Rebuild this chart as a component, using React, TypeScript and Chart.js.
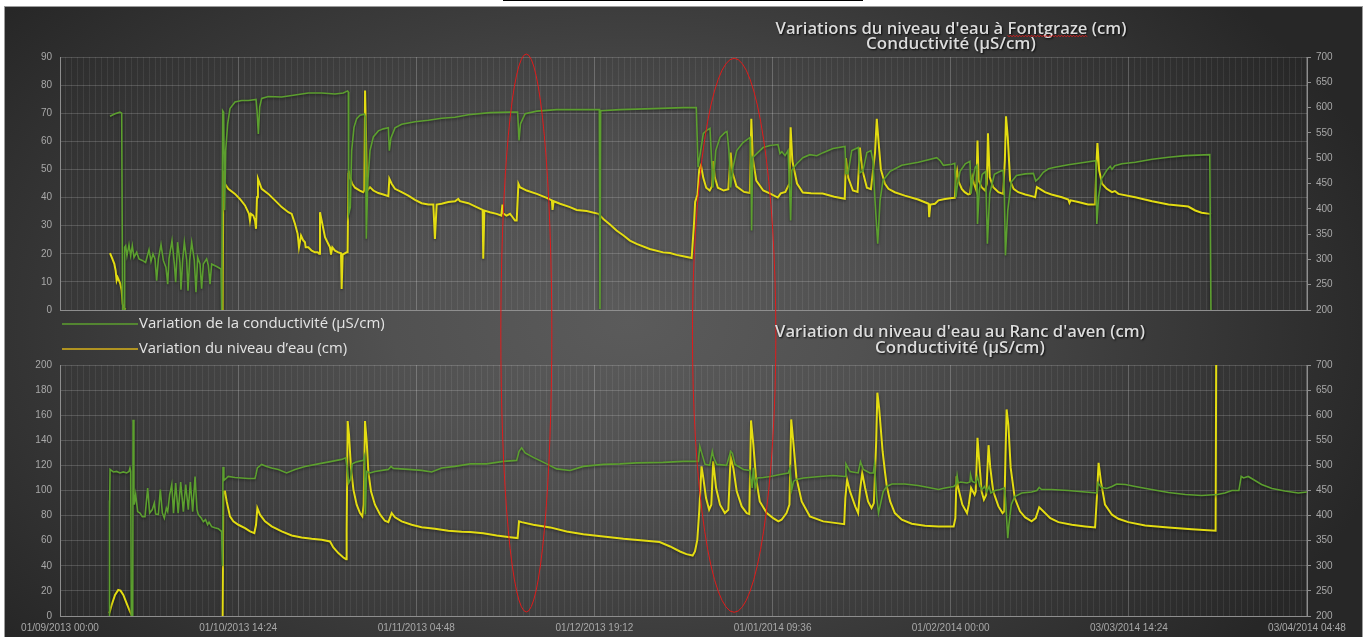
import React, { useEffect, useRef } from 'react';
import { Chart, registerables } from 'chart.js';

Chart.register(...registerables);

// ---- time axis (days since 01/09/2013 00:00) ----
const MAJOR_STEP = 30.6;
const MINOR_PER_MAJOR = 30;
const X_MAX = 7 * MAJOR_STEP;
const DATE_LABELS = [
  '01/09/2013 00:00', '01/10/2013 14:24', '01/11/2013 04:48', '01/12/2013 19:12',
  '01/01/2014 09:36', '01/02/2014 00:00', '03/03/2014 14:24', '03/04/2014 04:48',
];

// ---- Fontgraze: conductivity (µS/cm) ----
const TOP_COND_DAYS = [
  8.59, 9.45, 10.3, 10.6, 10.75, 11.0, 11.1, 11.28, 11.5, 11.85,
  12.14, 12.42, 12.71, 13.17, 13.57, 14.14, 14.7, 15.29, 15.63, 15.97,
  16.32, 16.6, 16.9, 17.35, 17.75, 18.2, 18.5, 18.72, 19.24, 19.64,
  19.87, 20.2, 20.6, 20.78, 21.07, 21.36, 21.76, 21.99, 22.27, 22.62,
  23.07, 23.36, 23.65, 24.05, 24.33, 24.62, 25.19, 25.48, 25.77, 26.05,
  26.9, 27.66, 27.77, 27.94, 28.11, 28.28, 28.46, 28.8, 29.2, 30.06,
  31.2, 32.35, 33.67, 33.84, 34.07, 34.3, 34.64, 35.79, 38.08, 40.37,
  42.66, 44.95, 47.24, 48.67, 49.4, 49.53, 49.59, 49.87, 50.1, 50.5,
  50.96, 51.53, 52.27, 52.45, 52.62, 52.85, 53.25, 53.82, 54.68, 55.54,
  56.4, 56.57, 56.85, 57.54, 58.69, 60.98, 63.27, 65.56, 67.85, 70.14,
  73.86, 77.3, 78.6, 78.85, 79.1, 79.9, 81.9, 85.3, 89.3, 92.64,
  92.75, 92.87, 96.2, 101.9, 107.07, 109.3, 109.6, 110.5, 111.1, 111.65,
  112.17, 112.64, 113.37, 114.23, 114.57, 114.9, 115.2, 115.6, 116.24, 117.32,
  118.52, 118.7, 118.8, 118.96, 119.68, 120.76, 121.96, 123.33, 123.68, 124.0,
  124.54, 125.05, 125.34, 125.5, 125.7, 126.55, 127.6, 128.8, 130.0, 131.07,
  132.78, 134.84, 135.0, 135.36, 136.0, 137.13, 137.4, 137.93, 138.6, 139.3,
  139.65, 140.0, 140.46, 140.86, 141.37, 142.6, 144.58, 147.44, 150.6, 151.2,
  151.74, 153.2, 153.7, 153.9, 154.1, 154.6, 155.5, 156.3, 156.5, 156.7,
  157.2, 157.5, 157.6, 157.9, 158.4, 159.0, 159.3, 159.7, 160.5, 161.5,
  162.0, 162.2, 162.4, 162.8, 163.4, 164.3, 165.8, 167.2, 167.6, 168.1,
  168.9, 169.8, 170.9, 173.2, 176.1, 177.9, 178.1, 178.4, 178.9, 179.8,
  180.4, 180.7, 181.2, 182.4, 184.7, 187.6, 190.4, 193.3, 197.5, 197.7,
];
const TOP_COND_US = [
  583, 588, 591, 589, 200, 200, 324, 327, 307, 329,
  307, 327, 304, 314, 301, 298, 294, 319, 296, 311,
  301, 258, 301, 329, 298, 284, 251, 301, 337, 291,
  255, 334, 294, 240, 298, 334, 298, 238, 298, 334,
  298, 235, 304, 291, 242, 291, 301, 288, 251, 291,
  286, 281, 200, 594, 591, 397, 515, 568, 598, 611,
  614, 614, 616, 594, 548, 601, 618, 622, 621, 625,
  629, 629, 627, 629, 633, 631, 390, 403, 515, 561,
  578, 585, 587, 581, 341, 449, 515, 542, 554, 558,
  560, 515, 540, 560, 567, 572, 575, 579, 581, 586,
  590, 591, 591, 535, 568, 588, 593, 596, 596, 596,
  202, 594, 596, 598, 600, 600, 482, 549, 555, 559,
  442, 515, 541, 551, 553, 515, 442, 482, 515, 531,
  541, 482, 357, 501, 509, 521, 525, 527, 509, 513,
  505, 515, 436, 377, 476, 489, 501, 507, 505, 511,
  519, 523, 470, 470, 515, 521, 471, 475, 511, 515,
  495, 416, 331, 416, 456, 474, 486, 492, 501, 495,
  486, 488, 490, 423, 443, 474, 489, 494, 430, 453,
  482, 486, 370, 436, 468, 474, 331, 430, 468, 474,
  476, 436, 308, 397, 453, 466, 469, 470, 455, 460,
  472, 479, 482, 487, 492, 495, 370, 423, 459, 476,
  484, 478, 485, 489, 492, 498, 502, 505, 507, 200,
];

// ---- Fontgraze: water level (cm) ----
const TOP_LEVEL_DAYS = [
  8.59, 9.0, 9.33, 9.56, 9.73, 9.9, 10.13, 10.36, 10.59, 10.76,
  10.99, 11.28, 11.5, 27.94, 28.06, 28.34, 28.9, 30.06, 30.9, 31.78,
  32.46, 32.63, 32.8, 33.2, 33.5, 33.67, 33.84, 34.0, 34.64, 35.79,
  36.93, 38.08, 39.22, 39.8, 40.37, 40.82, 41.05, 41.4, 41.8, 42.08,
  42.2, 42.66, 43.23, 43.8, 44.26, 44.5, 44.66, 44.95, 45.52, 46.09,
  46.38, 46.55, 46.78, 47.24, 47.81, 48.27, 48.38, 48.55, 49.24, 49.4,
  49.53, 49.6, 49.8, 50.2, 50.67, 51.5, 52.1, 52.27, 52.4, 52.62,
  52.8, 53.25, 53.82, 54.68, 55.54, 56.4, 56.57, 56.97, 57.54, 58.69,
  59.83, 60.98, 62.12, 63.27, 64.13, 64.4, 64.7, 65.56, 66.7, 67.85,
  68.4, 68.7, 70.14, 71.57, 72.6, 72.7, 72.89, 73.86, 75.0, 75.8,
  76.0, 76.1, 76.7, 77.3, 77.75, 78.16, 78.45, 78.74, 79.0, 80.17,
  81.9, 83.6, 84.5, 84.6, 84.8, 85.9, 87.6, 88.75, 90.47, 92.5,
  93.33, 94.47, 95.6, 96.8, 97.9, 99.05, 101.3, 103.6, 104.8, 105.9,
  107.07, 108.5, 108.9, 109.1, 109.5, 109.8, 110.1, 110.5, 111.0, 111.6,
  112.0, 112.2, 112.5, 113.0, 114.0, 114.8, 115.2, 115.5, 116.2, 117.5,
  118.5, 118.75, 119.0, 119.6, 120.8, 122.0, 123.3, 123.8, 124.6, 125.3,
  125.5, 125.8, 126.6, 127.6, 129.0, 131.0, 133.0, 134.8, 135.0, 135.4,
  136.2, 137.0, 137.4, 137.8, 138.6, 139.3, 140.0, 140.3, 140.6, 141.0,
  141.7, 142.3, 143.4, 145.1, 147.4, 149.2, 149.3, 149.5, 150.3, 150.9,
  152.0, 153.2, 153.7, 153.9, 154.1, 154.4, 154.9, 155.4, 156.0, 156.3,
  156.5, 156.7, 157.0, 157.4, 157.6, 157.8, 158.3, 158.9, 159.2, 159.4,
  159.7, 160.3, 161.2, 162.0, 162.3, 162.5, 162.8, 163.2, 163.8, 164.6,
  165.8, 166.9, 167.5, 167.8, 168.3, 169.2, 170.3, 172.1, 173.2, 173.4,
  173.6, 174.9, 176.6, 177.8, 178.0, 178.2, 178.5, 179.0, 179.8, 180.7,
  181.2, 181.8, 184.7, 187.6, 190.4, 193.8, 195.0, 196.1, 197.5, 197.7,
];
const TOP_LEVEL_CM = [
  20.2, 18.2, 16.4, 14.0, 10.5, 11.6, 10.5, 9.3, 6.9, 2.1,
  0.7, 0.2, null, 0, 49.6, 44.9, 43.1, 41.3, 39.5, 37.2,
  34.2, 31.8, 34.2, 33.6, 31.8, 28.9, 40.1, 46.7, 43.1, 41.3,
  39.0, 36.6, 34.8, 34.2, 30.6, 27.1, 22.3, 26.5, 24.7, 24.1,
  22.3, 22.3, 21.1, 20.5, 20.5, 20.0, 34.8, 31.8, 25.9, 23.5,
  22.3, 19.7, 22.3, 21.1, 20.5, 20.2, 7.5, 19.7, 20.5, 20.5,
  48.5, 49.6, 47.3, 44.9, 43.5, 42.5, 41.9, 42.5, 78.1, 56.8,
  42.5, 43.7, 42.5, 41.6, 41.1, 40.5, 46.7, 44.9, 43.1, 41.9,
  40.7, 39.2, 38.0, 37.5, 37.5, 25.3, 37.5, 37.8, 38.4, 38.7,
  39.5, 38.7, 38.0, 36.6, 35.6, 18.2, 35.4, 34.8, 34.2, 33.6,
  37.5, 34.4, 33.6, 34.2, 33.0, 31.8, 31.8, 44.9, 43.7, 42.5,
  41.3, 39.9, 39.0, 35.6, 38.7, 37.8, 36.6, 35.6, 35.2, 34.2,
  32.4, 30.4, 28.3, 26.5, 24.7, 23.5, 21.7, 20.5, 20.3, 19.6,
  19.1, 18.5, 30.6, 38.4, 41.0, 50.0, 51.5, 47.0, 43.5, 42.5,
  44.0, 53.0, 47.0, 43.5, 42.5, 43.0, 56.0, 49.0, 44.0, 42.0,
  41.6, 68.0, 54.0, 46.0, 42.5, 41.4, 40.0, 41.5, 42.0, 45.0,
  65.0, 53.0, 45.0, 41.8, 41.5, 41.4, 40.3, 39.6, 54.0, 47.0,
  42.5, 42.0, 57.8, 50.0, 43.5, 43.0, 56.0, 68.0, 60.0, 50.0,
  44.9, 43.1, 41.9, 40.7, 39.3, 37.8, 33.0, 37.5, 37.8, 39.0,
  39.5, 39.8, 39.9, 47.3, 49.6, 45.5, 43.1, 41.9, 41.1, 41.3,
  44.9, 47.3, 44.9, 42.5, 60.3, 46.1, 43.7, 42.5, 44.9, 62.9,
  47.3, 43.7, 41.9, 41.3, 53.2, 68.9, 61.5, 46.1, 43.1, 41.9,
  41.1, 40.5, 40.1, 43.7, 43.1, 41.9, 41.1, 40.1, 39.3, 38.1,
  39.0, 38.4, 37.5, 37.5, 50.8, 59.4, 49.6, 44.9, 43.1, 41.9,
  42.3, 41.3, 40.1, 38.7, 37.5, 36.8, 35.4, 34.6, 34.2, 34.0,
];

// ---- Ranc d'aven: conductivity (µS/cm) ----
const BOT_COND_DAYS = [
  8.45, 8.48, 8.52, 8.6, 8.76, 9.16, 9.73, 10.3, 10.88, 11.45,
  11.85, 12.02, 12.14, 12.25, 12.5, 12.55, 12.7, 12.77, 13.0, 13.34,
  13.74, 14.14, 14.6, 15.06, 15.4, 15.86, 16.2, 16.43, 16.9, 17.23,
  17.58, 17.92, 18.27, 18.5, 18.84, 19.2, 19.5, 19.87, 20.3, 20.73,
  21.19, 21.59, 22.04, 22.39, 22.79, 23.2, 23.53, 23.76, 24.22, 24.62,
  25.0, 25.36, 25.6, 26.05, 26.6, 27.2, 27.77, 27.9, 28.0, 28.15,
  28.63, 28.9, 30.06, 31.2, 32.35, 33.5, 33.67, 33.9, 34.64, 35.5,
  36.36, 37.5, 38.93, 40.37, 42.08, 44.37, 46.66, 48.38, 49.07, 49.4,
  49.6, 49.9, 50.2, 50.96, 52.1, 52.3, 52.45, 52.67, 53.25, 54.1,
  56.4, 56.86, 57.26, 59.83, 62.12, 63.84, 65.56, 67.85, 70.43, 73.3,
  76.16, 78.45, 78.85, 79.3, 79.9, 81.3, 83.6, 85.3, 87.6, 89.9,
  93.33, 96.2, 99.05, 103.6, 107.07, 109.65, 109.9, 110.3, 110.8, 111.6,
  112.05, 112.3, 112.8, 114.5, 115.2, 115.5, 115.95, 117.4, 118.5, 118.9,
  119.1, 119.4, 119.8, 120.8, 122.0, 123.7, 125.1, 125.4, 125.7, 126.0,
  126.5, 127.7, 130.5, 132.8, 134.85, 135.0, 135.7, 137.1, 137.5, 138.0,
  139.1, 139.7, 139.9, 140.3, 140.6, 141.4, 142.0, 142.9, 145.1, 147.4,
  149.2, 150.9, 152.0, 153.5, 153.9, 154.1, 154.3, 154.7, 155.8, 156.3,
  156.4, 156.7, 157.3, 157.6, 158.0, 158.4, 158.8, 159.2, 159.6, 159.9,
  160.6, 161.5, 162.2, 162.4, 162.8, 163.0, 163.4, 164.0, 165.2, 166.9,
  167.8, 168.2, 168.6, 170.3, 173.2, 176.1, 178.1, 178.3, 178.9, 179.8,
  180.7, 181.5, 183.0, 184.7, 187.5, 190.4, 193.3, 196.1, 198.8, 200.1,
  201.3, 202.5, 202.9, 203.3, 204.1, 204.7, 206.4, 208.2, 210.4, 212.7,
  214.2,
];
const BOT_COND_US = [
  200, 430, 395, 492, 492, 487, 488, 485, 487, 485,
  488, 495, 488, 200, 200, 591, 440, 422, 442, 408,
  405, 398, 398, 455, 405, 412, 425, 403, 402, 452,
  405, 395, 415, 408, 442, 462, 405, 465, 405, 467,
  408, 462, 412, 467, 408, 478, 412, 402, 396, 388,
  392, 382, 387, 378, 376, 374, 368, 300, 497, 470,
  475, 478, 476, 475, 474, 474, 482, 495, 502, 498,
  495, 492, 485, 492, 498, 503, 508, 512, 515, 488,
  465, 472, 503, 507, 510, 518, 402, 488, 485, 488,
  492, 498, 494, 492, 490, 487, 495, 498, 503, 503,
  508, 510, 528, 535, 525, 516, 503, 493, 490, 498,
  502, 503, 505, 506, 508, 508, 538, 522, 502, 500,
  528, 515, 502, 500, 528, 524, 502, 492, 490, 455,
  495, 455, 475, 476, 478, 482, 485, 495, 452, 468,
  472, 475, 478, 480, 478, 503, 488, 485, 507, 492,
  485, 485, 502, 435, 405, 448, 458, 463, 463, 460,
  456, 452, 455, 458, 462, 480, 465, 467, 465, 467,
  482, 468, 465, 478, 458, 452, 458, 448, 458, 445,
  450, 452, 455, 435, 355, 382, 422, 438, 445, 447,
  450, 456, 452, 452, 450, 447, 445, 465, 456, 454,
  458, 463, 462, 458, 452, 446, 442, 440, 442, 445,
  450, 450, 478, 475, 478, 474, 462, 454, 449, 445,
  447,
];

// ---- Ranc d'aven: water level (cm) ----
const BOT_LEVEL_DAYS = [
  8.47, 8.87, 9.45, 10.0, 10.4, 10.88, 11.45, 12.02, 12.4, 12.6,
  27.94, 28.06, 28.34, 28.63, 29.2, 29.77, 30.63, 31.78, 32.64, 33.38,
  33.67, 33.9, 34.35, 35.21, 36.36, 38.08, 39.8, 41.5, 43.23, 44.95,
  46.38, 46.95, 47.81, 48.67, 49.13, 49.24, 49.41, 49.64, 49.98, 50.4,
  50.96, 51.53, 51.93, 52.16, 52.39, 52.68, 52.96, 53.42, 54.1, 55.0,
  55.8, 56.4, 56.7, 56.97, 57.54, 58.69, 60.4, 62.12, 64.4, 66.7,
  69.0, 70.43, 72.7, 75.0, 77.3, 78.6, 78.85, 79.3, 81.3, 84.2,
  87.03, 89.9, 93.33, 96.8, 100.2, 103.0, 104.8, 106.5, 107.6, 108.67,
  109.07, 109.47, 109.8, 110.2, 110.5, 110.97, 111.5, 111.88, 112.2, 112.7,
  113.37, 114.2, 114.8, 115.2, 115.66, 116.24, 117.1, 117.96, 118.4, 118.7,
  119.1, 119.55, 120.2, 121.4, 122.5, 123.4, 123.95, 124.8, 125.3, 125.6,
  126.0, 126.5, 127.4, 128.8, 131.1, 133.4, 134.7, 134.9, 135.2, 135.7,
  136.6, 137.1, 137.4, 137.8, 138.3, 138.8, 139.4, 139.8, 140.2, 140.4,
  140.7, 141.3, 141.7, 142.0, 142.6, 143.4, 144.6, 146.3, 148.6, 150.9,
  153.5, 153.8, 154.0, 154.3, 155.0, 155.8, 156.1, 156.5, 157.1, 157.3,
  157.6, 157.9, 158.3, 158.7, 159.1, 159.5, 159.8, 160.3, 161.2, 161.9,
  162.2, 162.4, 162.6, 162.9, 163.3, 164.0, 164.9, 165.8, 166.9, 167.6,
  168.2, 168.9, 170.1, 171.5, 173.8, 176.1, 177.8, 178.1, 178.4, 178.8,
  179.5, 180.7, 181.8, 183.5, 186.4, 190.4, 194.4, 198.5, 198.6,
];
const BOT_LEVEL_CM = [
  2.1, 8.8, 16.8, 20.8, 20.2, 16.8, 10.1, 3.5, 0, null,
  0, 99.3, 99.3, 91.3, 79.4, 75.4, 72.7, 70.0, 67.4, 66.0,
  72.7, 86.0, 80.7, 75.4, 71.4, 67.4, 64.2, 62.6, 61.5, 60.7,
  59.4, 54.6, 50.1, 46.6, 45.3, 67.4, 155.3, 144.6, 118.0, 100.7,
  88.7, 82.0, 79.4, 88.7, 155.3, 139.3, 115.3, 99.3, 88.7, 80.7,
  75.9, 74.8, 78.6, 82.0, 78.6, 75.4, 72.7, 70.8, 69.5, 67.9,
  67.1, 67.0, 66.0, 64.2, 62.8, 62.1, 75.4, 74.8, 72.7, 70.6,
  67.4, 65.2, 63.4, 61.5, 60.2, 58.9, 55.4, 51.4, 49.3, 48.2,
  51.4, 60.7, 83.4, 119.3, 110.0, 94.0, 84.7, 88.7, 123.3, 102.0,
  88.7, 82.0, 84.7, 127.0, 118.0, 99.3, 87.3, 82.0, 81.2, 155.8,
  136.6, 110.0, 91.3, 82.0, 78.0, 75.4, 76.7, 82.0, 88.7, 156.6,
  136.6, 110.0, 91.3, 79.4, 75.4, 74.0, 73.2, 94.0, 108.7, 99.3,
  87.3, 82.0, 99.3, 114.0, 102.0, 91.3, 86.0, 90.0, 139.3, 177.9,
  166.0, 131.3, 115.0, 104.0, 91.3, 82.0, 76.7, 73.5, 71.9, 71.4,
  71.4, 78.0, 111.3, 102.0, 88.7, 82.0, 88.7, 102.0, 96.7, 99.3,
  142.0, 123.3, 99.3, 92.7, 96.7, 136.1, 118.0, 99.3, 87.3, 82.0,
  83.4, 126.0, 164.6, 152.6, 118.0, 94.0, 83.4, 78.6, 75.4, 78.0,
  86.6, 83.4, 78.0, 74.8, 72.7, 71.4, 70.6, 94.0, 122.0, 107.3,
  88.7, 80.7, 77.5, 74.8, 72.2, 70.6, 69.2, 67.9, 200.0,
];

// ---- hand-drawn red ellipses (day of centre, radii in px, centre y on the page) ----
const MARK_DAYS = [80.1, 115.8];
const MARK_RX = [25.5, 41.7];
const MARK_RY = [279, 277];
const MARK_CY = [333, 335.3];

// ---- page layout ----
const PANEL_X = 4;
const CANVAS_W = 1359;
const TOP_CANVAS_Y = 6;
const TOP_CANVAS_H = 354;
const BOT_CANVAS_Y = 318;
const BOT_CANVAS_H = 319;
const SPLIT_Y = 340;
const AXIS_W = 56;

const GREEN = '#5c9f2f';
const YELLOW = '#e3dc12';
const LEGEND_YELLOW = '#d9b21a';
const RED = '#e01b1b';
const GRID_H = 'rgba(255,255,255,0.17)';
const GRID_V_MAJOR = 'rgba(255,255,255,0.22)';
const GRID_V_MINOR = 'rgba(255,255,255,0.07)';
const AXIS_LINE = '#8e8e8e';
const TICK_COLOR = '#a8a8a8';
const TICK_FONT = { family: '"Liberation Sans", Arial, sans-serif', size: 10 };
const TITLE_FAMILY = '"Open Sans", "DejaVu Sans", sans-serif';

const toPoints = (days: number[], vals: (number | null)[]) =>
  days.map((d, i) => ({ x: d, y: vals[i] }));

const X_TICKS = Array.from({ length: 7 * MINOR_PER_MAJOR + 1 }, (_, i) => ({
  value: (i * MAJOR_STEP) / MINOR_PER_MAJOR,
}));

function fittedFont(ctx: CanvasRenderingContext2D, text: string, weight: string, width: number) {
  ctx.font = `${weight} 13px ${TITLE_FAMILY}`;
  const w = ctx.measureText(text).width;
  const size = (13 * width) / w;
  return `${weight} ${size.toFixed(2)}px ${TITLE_FAMILY}`;
}

function drawTitle(
  ctx: CanvasRenderingContext2D,
  lines: string[],
  cx: number,
  ys: number[],
  widths: number[],
  underline?: { line: number; before: string; word: string }
) {
  ctx.save();
  ctx.textAlign = 'center';
  ctx.textBaseline = 'middle';
  lines.forEach((t, i) => {
    ctx.font = fittedFont(ctx, t, '600', widths[i]);
    ctx.shadowColor = 'rgba(0,0,0,0.85)';
    ctx.shadowBlur = 2;
    ctx.shadowOffsetX = 1;
    ctx.shadowOffsetY = 1;
    ctx.fillStyle = '#dcdcdc';
    ctx.fillText(t, cx, ys[i]);
    if (underline && underline.line === i) {
      ctx.shadowColor = 'transparent';
      const full = ctx.measureText(t).width;
      const x0 = cx - full / 2 + ctx.measureText(underline.before).width;
      const ww = ctx.measureText(underline.word).width;
      const y0 = ys[i] + 7;
      ctx.beginPath();
      for (let x = 0; x <= ww; x += 1.5) {
        const yy = y0 + (Math.round(x / 1.5) % 2 === 0 ? -0.8 : 0.8);
        if (x === 0) ctx.moveTo(x0 + x, yy);
        else ctx.lineTo(x0 + x, yy);
      }
      ctx.strokeStyle = RED;
      ctx.lineWidth = 0.9;
      ctx.stroke();
    }
  });
  ctx.restore();
}

function drawMarks(chart: Chart, canvasTop: number, clipTop: number, clipBottom: number) {
  const ctx = chart.ctx;
  const xs = chart.scales.x;
  ctx.save();
  ctx.beginPath();
  ctx.rect(0, clipTop - canvasTop, chart.width, clipBottom - clipTop);
  ctx.clip();
  ctx.strokeStyle = RED;
  ctx.lineWidth = 1;
  MARK_DAYS.forEach((d, i) => {
    ctx.beginPath();
    ctx.ellipse(xs.getPixelForValue(d), MARK_CY[i] - canvasTop, MARK_RX[i], MARK_RY[i], 0, 0, Math.PI * 2);
    ctx.stroke();
  });
  ctx.restore();
}

const lineShadow = {
  id: 'lineShadow',
  beforeDatasetDraw(chart: Chart) {
    const c = chart.ctx;
    c.save();
    c.shadowColor = 'rgba(0,0,0,0.55)';
    c.shadowBlur = 3;
    c.shadowOffsetY = 1;
  },
  afterDatasetDraw(chart: Chart) {
    chart.ctx.restore();
  },
};

const topDecor = {
  id: 'topDecor',
  afterDraw(chart: Chart) {
    const ctx = chart.ctx;
    drawTitle(
      ctx,
      ["Variations du niveau d'eau à Fontgraze (cm)", 'Conductivité (µS/cm)'],
      951 - PANEL_X,
      [29 - TOP_CANVAS_Y, 44 - TOP_CANVAS_Y],
      [351, 170],
      { line: 0, before: "Variations du niveau d'eau à ", word: 'Fontgraze' }
    );
    // legend
    const items = [
      { color: GREEN, text: chart.data.datasets[0].label as string, y: 324, w: 246 },
      { color: LEGEND_YELLOW, text: chart.data.datasets[1].label as string, y: 349, w: 208 },
    ];
    ctx.save();
    items.forEach((it) => {
      const y = it.y - TOP_CANVAS_Y;
      ctx.beginPath();
      ctx.moveTo(62 - PANEL_X, y);
      ctx.lineTo(138 - PANEL_X, y);
      ctx.strokeStyle = it.color;
      ctx.lineWidth = 1.5;
      ctx.stroke();
      ctx.font = fittedFont(ctx, it.text, '400', it.w);
      ctx.fillStyle = '#e4e4e4';
      ctx.textAlign = 'left';
      ctx.textBaseline = 'middle';
      ctx.fillText(it.text, 139 - PANEL_X, y);
    });
    ctx.restore();
    drawMarks(chart, TOP_CANVAS_Y, 0, SPLIT_Y);
  },
};

const botDecor = {
  id: 'botDecor',
  afterDraw(chart: Chart) {
    drawTitle(
      chart.ctx,
      ["Variation du niveau d'eau au Ranc d'aven (cm)", 'Conductivité (µS/cm)'],
      960 - PANEL_X,
      [332 - BOT_CANVAS_Y, 348 - BOT_CANVAS_Y],
      [370, 170]
    );
    drawMarks(chart, BOT_CANVAS_Y, SPLIT_Y, 700);
  },
};

function buildConfig(
  kind: 'top' | 'bottom',
  cond: { x: number; y: number | null }[],
  level: { x: number; y: number | null }[]
): any {
  const isTop = kind === 'top';
  return {
    type: 'line',
    data: {
      datasets: [
        {
          label: 'Variation de la conductivité (µS/cm)',
          data: cond,
          yAxisID: 'yR',
          borderColor: GREEN,
          backgroundColor: GREEN,
          borderWidth: 1.6,
          pointRadius: 0,
          tension: 0,
          spanGaps: false,
        },
        {
          label: 'Variation du niveau d’eau (cm)',
          data: level,
          yAxisID: 'yL',
          borderColor: YELLOW,
          backgroundColor: YELLOW,
          borderWidth: 2,
          pointRadius: 0,
          tension: 0,
          spanGaps: false,
        },
      ],
    },
    plugins: [lineShadow, isTop ? topDecor : botDecor],
    options: {
      responsive: false,
      animation: false,
      events: [],
      layout: { padding: { top: isTop ? 51 : 47, left: 0, right: 0, bottom: 0 } },
      plugins: { legend: { display: false }, title: { display: false }, tooltip: { enabled: false } },
      scales: {
        x: {
          type: 'linear',
          min: 0,
          max: X_MAX,
          afterBuildTicks: (axis: any) => {
            axis.ticks = X_TICKS.map((t) => ({ value: t.value }));
          },
          afterFit: (s: any) => {
            s.height = isTop ? 50 : 21;
          },
          ticks: {
            display: !isTop,
            autoSkip: false,
            maxRotation: 0,
            minRotation: 0,
            padding: 6,
            color: TICK_COLOR,
            font: TICK_FONT,
            callback: (_v: number, i: number) =>
              i % MINOR_PER_MAJOR === 0 ? DATE_LABELS[i / MINOR_PER_MAJOR] : '',
          },
          grid: {
            drawTicks: false,
            lineWidth: 1,
            color: (c: any) => (c.index % MINOR_PER_MAJOR === 0 ? GRID_V_MAJOR : GRID_V_MINOR),
          },
          border: { display: true, color: AXIS_LINE },
        },
        yL: {
          type: 'linear',
          position: 'left',
          min: 0,
          max: isTop ? 90 : 200,
          afterFit: (s: any) => {
            s.width = AXIS_W;
          },
          ticks: { stepSize: isTop ? 10 : 20, padding: 8, color: TICK_COLOR, font: TICK_FONT },
          grid: { drawTicks: false, color: GRID_H },
          border: { display: true, color: AXIS_LINE },
        },
        yR: {
          type: 'linear',
          position: 'right',
          min: 200,
          max: 700,
          afterFit: (s: any) => {
            s.width = AXIS_W;
          },
          ticks: { stepSize: 50, padding: 5, color: TICK_COLOR, font: TICK_FONT },
          grid: { drawOnChartArea: false, drawTicks: true, tickLength: 4, color: AXIS_LINE },
          border: { display: true, color: AXIS_LINE },
        },
      },
    },
  };
}

export default function App() {
  const topRef = useRef<HTMLCanvasElement>(null);
  const botRef = useRef<HTMLCanvasElement>(null);

  useEffect(() => {
    const top = new Chart(
      topRef.current as HTMLCanvasElement,
      buildConfig('top', toPoints(TOP_COND_DAYS, TOP_COND_US), toPoints(TOP_LEVEL_DAYS, TOP_LEVEL_CM))
    );
    const bottom = new Chart(
      botRef.current as HTMLCanvasElement,
      buildConfig('bottom', toPoints(BOT_COND_DAYS, BOT_COND_US), toPoints(BOT_LEVEL_DAYS, BOT_LEVEL_CM))
    );
    return () => {
      top.destroy();
      bottom.destroy();
    };
  }, []);

  return (
    <div style={{ position: 'absolute', left: 0, top: 0, width: 1368, height: 637, overflow: 'hidden' }}>
      <div style={{ position: 'absolute', left: 503, top: 0, width: 360, height: 1, background: '#000' }} />
      <div
        style={{
          position: 'absolute',
          left: PANEL_X,
          top: 6,
          width: CANVAS_W,
          height: 637 - 6,
          boxSizing: 'border-box',
          border: '1px solid #9c9c9c',
          borderBottom: 'none',
          background:
            'radial-gradient(ellipse 58% 80% at 46% 50%, #5b5b5b 0%, #515151 30%, #3d3d3d 62%, #272727 100%)',
        }}
      />
      <canvas
        ref={topRef}
        width={CANVAS_W}
        height={TOP_CANVAS_H}
        style={{ position: 'absolute', left: PANEL_X, top: TOP_CANVAS_Y, display: 'block' }}
      />
      <canvas
        ref={botRef}
        width={CANVAS_W}
        height={BOT_CANVAS_H}
        style={{ position: 'absolute', left: PANEL_X, top: BOT_CANVAS_Y, display: 'block' }}
      />
    </div>
  );
}
